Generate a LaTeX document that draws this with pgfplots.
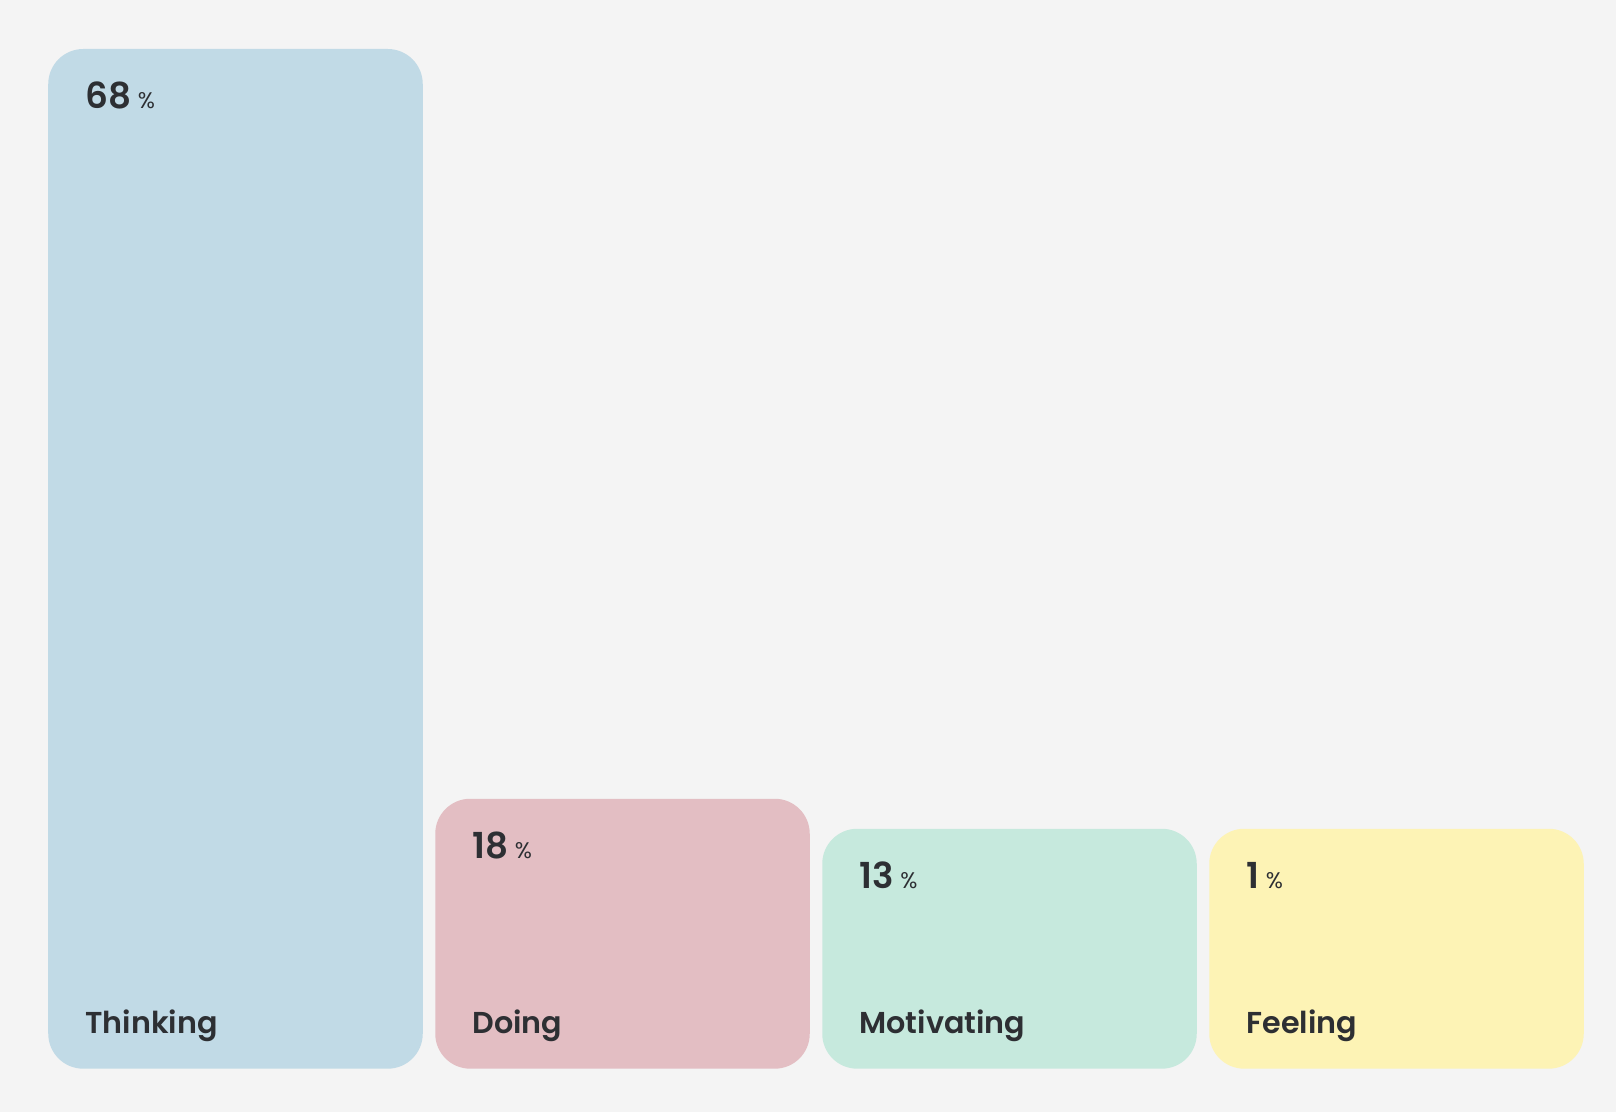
\documentclass[border=0pt]{standalone}
\usepackage{fontspec}
\setmainfont{Poppins}[BoldFont={Poppins SemiBold}]
\usepackage{pgfplots}
\pgfplotsset{compat=1.18}
\usepackage{pgfplotstable}
\usetikzlibrary{backgrounds}

\definecolor{bgc}{HTML}{F4F4F4}
\definecolor{txt}{HTML}{2D2F33}
\definecolor{cthink}{HTML}{C1DAE6}
\definecolor{cdo}{HTML}{E3BEC3}
\definecolor{cmot}{HTML}{C6E9DD}
\definecolor{cfeel}{HTML}{FDF3B5}

% x: slot, h: drawn height (bars have a minimum height), v: share in %
\pgfplotstableread{
x h v
0 68 68
}\thinking
\pgfplotstableread{
x h v
1 18 18
}\doing
\pgfplotstableread{
x h v
2 16 13
}\motivating
\pgfplotstableread{
x h v
3 16 1
}\feeling

\begin{document}
\begin{tikzpicture}
\begin{axis}[
    scale only axis,
    width=774pt, height=509.85pt,
    xmin=-0.5, xmax=3.5,
    ymin=0, ymax=68,
    hide axis,
    clip=false,
    ybar,
    bar width=187.25pt,
    bar shift=0pt,
    /pgf/number format/assume math mode=true,
    /pgf/number format/precision=0,
    point meta=explicit,
    nodes near coords={%
        {\fontsize{17.9}{20}\selectfont\bfseries\pgfmathprintnumber{\pgfplotspointmeta}}%
        \hspace{3.4pt}{\fontsize{11.3}{12}\selectfont\%}},
    every node near coord/.append style={
        anchor=base west, inner sep=0pt, text=txt, rounded corners=0pt,
        xshift=-75.4pt, yshift=-29.65pt},
]
\coordinate (sw) at (rel axis cs:0,0);
\coordinate (ne) at (rel axis cs:1,1);
\addplot[fill=cthink, draw=none, rounded corners=17.5pt] table[x=x, y=h, meta=v] {\thinking};
\addplot[fill=cdo, draw=none, rounded corners=17.5pt] table[x=x, y=h, meta=v] {\doing};
\addplot[fill=cmot, draw=none, rounded corners=17.5pt] table[x=x, y=h, meta=v] {\motivating};
\addplot[fill=cfeel, draw=none, rounded corners=17.5pt] table[x=x, y=h, meta=v] {\feeling};

\foreach \i/\name in {0/Thinking, 1/Doing, 2/Motivating, 3/Feeling} {
    \edef\temp{\noexpand\node[anchor=base west, inner sep=0pt, text=txt,
        font=\noexpand\fontsize{15.1}{18}\noexpand\selectfont\noexpand\bfseries,
        xshift=-75.2pt, yshift=17.35pt] at (axis cs:\i,0) {\name};}
    \temp
}
\end{axis}
\begin{scope}[on background layer]
\fill[bgc] ([xshift=-21pt, yshift=-21.65pt]sw) rectangle ([xshift=13pt, yshift=24.5pt]ne);
\end{scope}
\end{tikzpicture}
\end{document}
